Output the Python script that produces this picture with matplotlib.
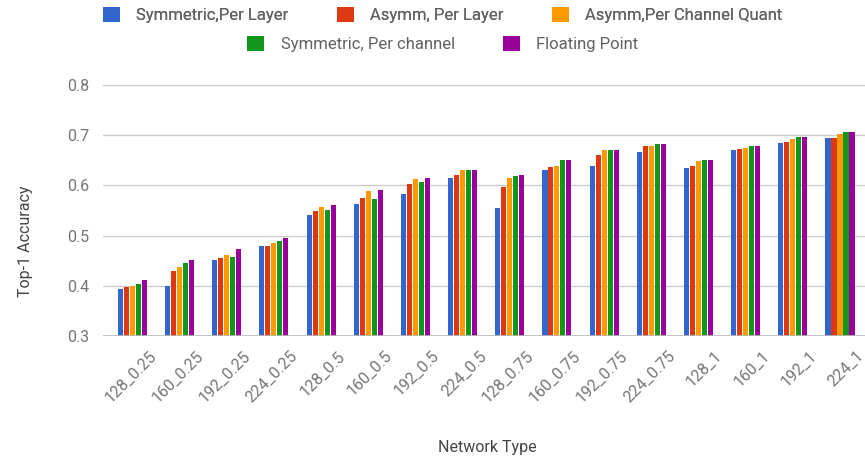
import numpy as np
import matplotlib
matplotlib.use('Agg')
import matplotlib.pyplot as plt
import matplotlib.transforms as mtransforms

plt.rcParams['font.family'] = ['Roboto', 'DejaVu Sans']

networks = ['128_0.25', '160_0.25', '192_0.25', '224_0.25',
            '128_0.5', '160_0.5', '192_0.5', '224_0.5',
            '128_0.75', '160_0.75', '192_0.75', '224_0.75',
            '128_1', '160_1', '192_1', '224_1']

sym_layer = [0.394, 0.400, 0.452, 0.479, 0.541, 0.563, 0.582, 0.615,
             0.554, 0.630, 0.639, 0.666, 0.635, 0.670, 0.685, 0.694]
asym_layer = [0.397, 0.430, 0.455, 0.479, 0.548, 0.575, 0.603, 0.621,
              0.597, 0.637, 0.660, 0.679, 0.639, 0.672, 0.687, 0.694]
asym_channel = [0.400, 0.437, 0.461, 0.485, 0.557, 0.588, 0.612, 0.630,
                0.615, 0.639, 0.670, 0.679, 0.648, 0.675, 0.693, 0.703]
sym_channel = [0.403, 0.446, 0.458, 0.489, 0.551, 0.572, 0.606, 0.630,
               0.618, 0.651, 0.670, 0.682, 0.651, 0.678, 0.697, 0.707]
float_point = [0.412, 0.452, 0.473, 0.495, 0.560, 0.591, 0.615, 0.630,
               0.621, 0.651, 0.670, 0.682, 0.651, 0.678, 0.697, 0.707]

series = [sym_layer, asym_layer, asym_channel, sym_channel, float_point]
labels = ['Symmetric,Per Layer', 'Asymm, Per Layer', 'Asymm,Per Channel Quant',
          'Symmetric, Per channel', 'Floating Point']
colors = ['#3366cc', '#dc3912', '#ff9900', '#109618', '#990099']

fig = plt.figure(figsize=(8.65, 4.61), dpi=100)
ax = fig.add_axes([0.119, 0.271, 0.881, 0.545])

x = np.arange(len(networks))
pitch = 0.127
width = 0.107
bars = []
for i, (vals, lab, c) in enumerate(zip(series, labels, colors)):
    b = ax.bar(x + (i - 2) * pitch, np.array(vals) - 0.3, width, bottom=0.3,
               color=c, label=lab, zorder=3)
    bars.append(b)

ax.set_ylim(0.3, 0.8)
ax.set_xlim(-0.625, 15.53)
ax.set_yticks([0.3, 0.4, 0.5, 0.6, 0.7, 0.8])
ax.set_yticklabels(['0.3', '0.4', '0.5', '0.6', '0.7', '0.8'])
ax.grid(axis='y', color='#cccccc', lw=1, zorder=0)
ax.axhline(0.3, color='#bbbbbb', lw=1.2, zorder=4)
for s in ax.spines.values():
    s.set_visible(False)
ax.tick_params(axis='both', length=0, labelsize=11.5, colors='#757575')
ax.tick_params(axis='y', pad=10)
ax.set_xticks(x)
ax.set_xticklabels(networks, rotation=45, ha='right', rotation_mode='anchor')
ax.tick_params(axis='x', pad=8)
shift = mtransforms.ScaledTranslation(16 / 100, -1 / 100, fig.dpi_scale_trans)
for t in ax.get_xticklabels():
    t.set_transform(t.get_transform() + shift)

fig.text(0.03, 0.477, 'Top-1 Accuracy', rotation=90, ha='center', va='center',
         fontsize=11.5, color='#444444')
fig.text(0.563, 0.03, 'Network Type', ha='center', va='center',
         fontsize=11.5, color='#444444')

leg1 = fig.legend(bars[:3], labels[:3], ncol=3, loc='center',
                  bbox_to_anchor=(0.512, 0.967), frameon=False, fontsize=12,
                  handlelength=1.0, handleheight=1.0, handletextpad=1.0,
                  columnspacing=2.9, labelcolor='#616161')
leg2 = fig.legend(bars[3:], labels[3:], ncol=2, loc='center',
                  bbox_to_anchor=(0.512, 0.904), frameon=False, fontsize=12,
                  handlelength=1.0, handleheight=1.0, handletextpad=1.0,
                  columnspacing=2.9, labelcolor='#616161')
fig.add_artist(leg1)

fig.savefig('out.png', dpi=100)
